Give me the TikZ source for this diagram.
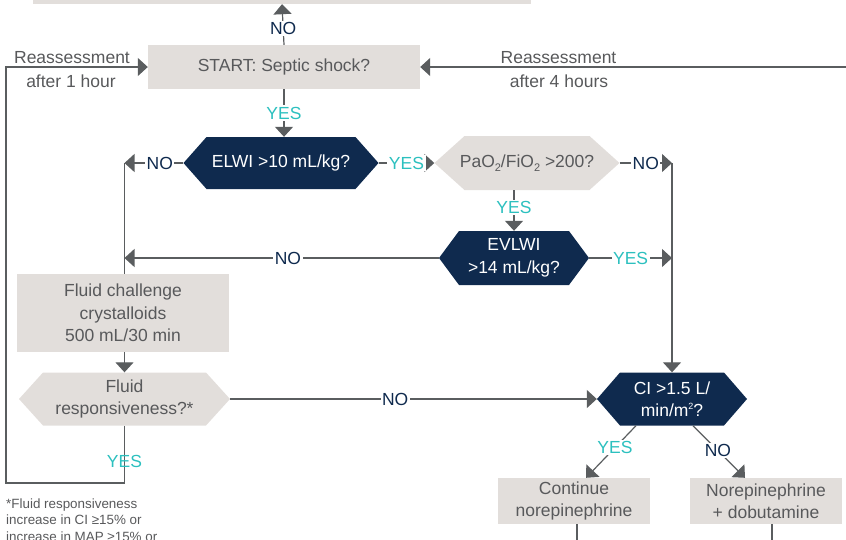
\documentclass[tikz,border=0pt]{standalone}
\usepackage{fontspec}
\setmainfont{Liberation Sans}
\usetikzlibrary{arrows.meta,calc}
\definecolor{navy}{HTML}{0F2A4E}
\definecolor{boxgray}{HTML}{E2DEDB}
\definecolor{txtgray}{HTML}{58595B}
\definecolor{linegray}{HTML}{5A5D5F}
\definecolor{yescyan}{HTML}{2CC0BF}
\newcommand{\subtxt}[1]{\raisebox{-0.4ex}{\fontsize{11}{11}\selectfont #1}}
\newcommand{\suptxt}[1]{\raisebox{0.75ex}{\fontsize{9}{9}\selectfont #1}}
\begin{document}
\begin{tikzpicture}[x=1pt,y=-1pt,
  font=\fontsize{17.5}{22.5}\selectfont,
  hexd/.store in=\hexdepth, hexd=23pt,
  hexcol/.store in=\hexcolor, hexcol=navy,
  hexbase/.style={rectangle, inner sep=0pt, align=center, path picture={
     \fill[\hexcolor] (path picture bounding box.west)
       -- ([xshift=\hexdepth]path picture bounding box.north west)
       -- ([xshift=-\hexdepth]path picture bounding box.north east)
       -- (path picture bounding box.east)
       -- ([xshift=-\hexdepth]path picture bounding box.south east)
       -- ([xshift=\hexdepth]path picture bounding box.south west) -- cycle;}},
  navyhex/.style={hexbase, hexcol=navy, text=white},
  grayhex/.style={hexbase, hexcol=boxgray, text=txtgray},
  graybox/.style={rectangle, fill=boxgray, text=txtgray, inner sep=0pt, align=center},
  conn/.style={draw=linegray, line width=1.2pt},
  arr/.style={conn, -{Triangle[length=10pt,width=18pt]}},
  yeslbl/.style={fill=white, text=yescyan, inner sep=1.5pt},
  nolbl/.style={fill=white, text=navy, inner sep=1.5pt},
  note/.style={text=txtgray, align=center, inner sep=0pt},
]
\useasboundingbox (0,0) rectangle (846,539);

% nodes
\node[graybox, minimum width=498pt, minimum height=30pt] (topbox) at (282,-11) {};
\node[graybox, minimum width=272pt, minimum height=44pt] (start) at (284,67) {START: Septic shock?};
\node[navyhex, hexd=23pt, minimum width=195pt, minimum height=52pt] (elwi) at (281,163) {ELWI >10 mL/kg?};
\node[grayhex, hexd=30pt, minimum width=185pt, minimum height=54pt] (pao) at (527,163) {PaO\subtxt{2}/FiO\subtxt{2} >200?};
\node[navyhex, hexd=20pt, minimum width=150pt, minimum height=54pt] (evlwi) at (514,258) {EVLWI\\>14 mL/kg?};
\node[graybox, minimum width=212pt, minimum height=78pt] (fc) at (123,313) {Fluid challenge\\crystalloids\\500 mL/30 min};
\node[grayhex, hexd=24pt, minimum width=211pt, minimum height=53pt] (fr) at (124.5,399) {Fluid\\responsiveness?*};
\node[navyhex, hexd=23pt, minimum width=150pt, minimum height=53pt] (ci) at (672,399) {CI >1.5 L/\\min/m\suptxt{2}?};
\node[graybox, minimum width=152pt, minimum height=46pt] (cont) at (574,501) {Continue\\norepinephrine};
\node[graybox, minimum width=152pt, minimum height=46pt] (nor) at (766,501) {Norepinephrine\\+ dobutamine};

% text labels
\node[note] (r1a) at (72,57.5) {Reassessment};
\node[note] (r1b) at (71,81) {after 1 hour};
\node[note] (r4a) at (558.5,57.5) {Reassessment};
\node[note] (r4b) at (559,81) {after 4 hours};
\node[anchor=north west, text=txtgray, align=left, inner sep=0pt,
      font=\fontsize{13.4}{16.5}\selectfont] (fn) at (6,498.5)
      {*Fluid responsiveness\\increase in CI ≥15\% or\\increase in MAP ≥15\% or};

% coordinates
\coordinate (lc) at (6,483);
\coordinate (rc) at (850,67);
\coordinate (lj1) at (124.5,163);
\coordinate (lj2) at (124.5,258);
\coordinate (rj1) at (672,163);
\coordinate (rj2) at (672,258);

% connectors
\draw[arr] (start.north) -- node[nolbl, pos=0.4]{NO} (topbox.south);
\draw[arr] (fr.south) -- node[text=yescyan, inner sep=0pt, pos=0.63]{YES} (fr.south |- lc) -- (lc) -- (lc |- start.west) -- (start.west);
\draw[arr] (rc) -- (start.east);
\draw[arr] (start.south) -- node[yeslbl]{YES} (elwi.north -| start.south);
\draw[arr] (elwi.west) -- node[nolbl, pos=0.4]{NO} (lj1);
\draw[conn] (lj1) -- (lj1 |- fc.north);
\draw[arr] (evlwi.west) -- node[nolbl, pos=0.48]{NO} (lj2);
\draw[arr] (elwi.east) -- node[yeslbl]{YES} (pao.west);
\draw[arr] (pao.east) -- node[nolbl]{NO} (rj1);
\draw[arr] (pao.south -| evlwi.north) -- node[yeslbl, pos=0.42]{YES} (evlwi.north);
\draw[arr] (evlwi.east) -- node[yeslbl]{YES} (rj2);
\draw[arr] (rj1) -- (ci.north);
\draw[arr] (fr.north |- fc.south) -- (fr.north);
\draw[arr] (fr.east) -- node[nolbl, pos=0.45]{NO} (ci.west);
\draw[arr] ([xshift=-36pt]ci.south) -- node[yeslbl, pos=0.42]{YES} ([xshift=12pt]cont.north);
\draw[arr] ([xshift=21pt]ci.south) -- node[nolbl, pos=0.48]{NO} ([xshift=-21pt]nor.north);
\draw[conn] ([xshift=3pt]cont.south) -- ++(0,20);
\draw[conn] ([xshift=6pt]nor.south) -- ++(0,20);
\end{tikzpicture}
\end{document}
